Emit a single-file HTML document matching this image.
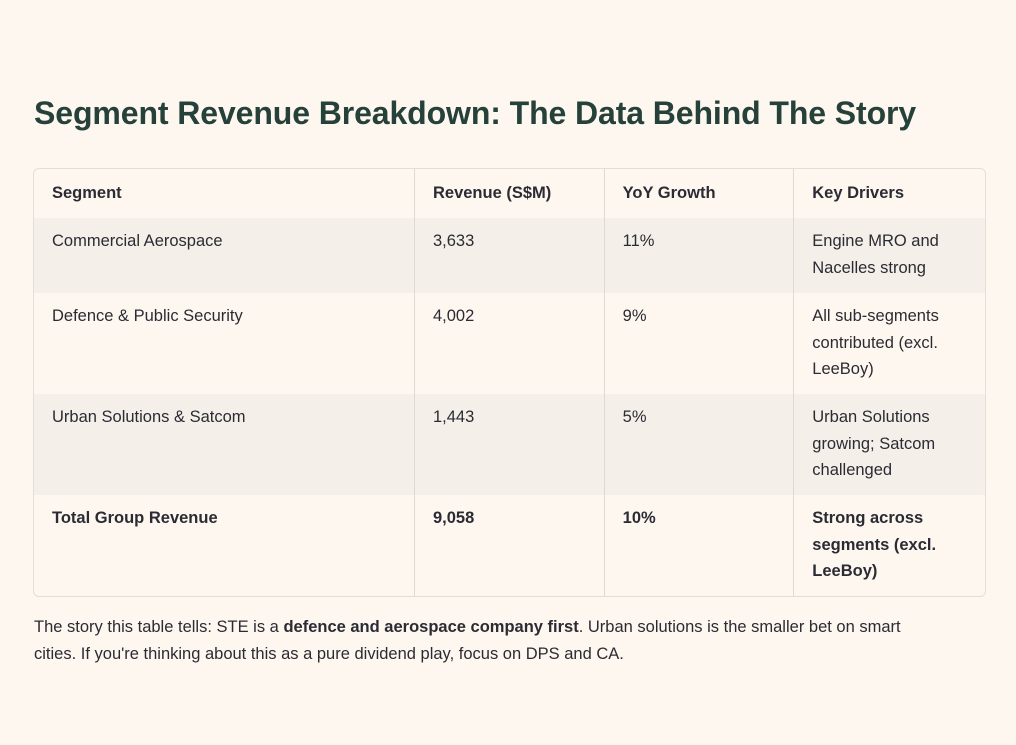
<!DOCTYPE html>
<html><head><meta charset="utf-8"><style>
body{margin:0;width:1016px;height:745px;background:#fdf7f0;font-family:"Liberation Sans",sans-serif;color:#2b2b33;position:relative;overflow:hidden}
h1{position:absolute;left:34px;top:95px;margin:0;font-size:32px;font-weight:bold;color:#26403a;letter-spacing:-0.1px}
table{position:absolute;left:33px;top:168px;width:953px;border-collapse:separate;border-spacing:0;border:1px solid #e4ded6;border-radius:6px;overflow:hidden;font-size:16.5px;line-height:26.5px}
td,th{vertical-align:top;text-align:left;padding:10px 17px 0 18px;border-left:1px solid #dedad3;box-sizing:border-box}
td:first-child,th:first-child{border-left:none}
th{height:49px;padding-top:11px;font-weight:bold}
tr.s td{background:#f4efe9}
p{position:absolute;left:34px;top:614px;margin:0;width:905px;font-size:16.5px;line-height:27px}
</style></head><body>
<h1>Segment Revenue Breakdown: The Data Behind The Story</h1>
<table>
<colgroup><col style="width:381px"><col style="width:190px"><col style="width:190px"><col style="width:192px"></colgroup>
<tr><th>Segment</th><th>Revenue (S$M)</th><th>YoY Growth</th><th>Key Drivers</th></tr>
<tr class="s" style="height:75px"><td>Commercial Aerospace</td><td>3,633</td><td>11%</td><td>Engine MRO and Nacelles strong</td></tr>
<tr style="height:101px"><td>Defence &amp; Public Security</td><td>4,002</td><td>9%</td><td>All sub-segments contributed (excl. LeeBoy)</td></tr>
<tr class="s" style="height:101px"><td>Urban Solutions &amp; Satcom</td><td>1,443</td><td>5%</td><td>Urban Solutions growing; Satcom challenged</td></tr>
<tr style="height:101px;font-weight:bold"><td>Total Group Revenue</td><td>9,058</td><td>10%</td><td>Strong across segments (excl. LeeBoy)</td></tr>
</table>
<p>The story this table tells: STE is a <b>defence and aerospace company first</b>. Urban solutions is the smaller bet on smart cities. If you're thinking about this as a pure dividend play, focus on DPS and CA.</p>
</body></html>
